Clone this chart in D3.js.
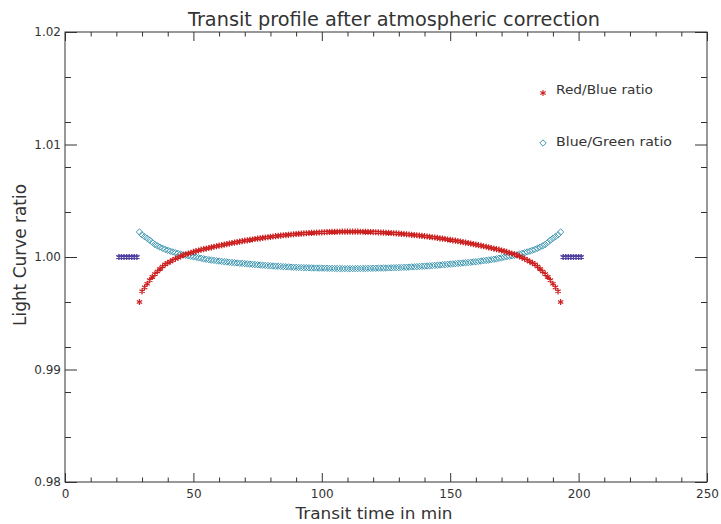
<!DOCTYPE html>
<html>
<head>
<meta charset="utf-8">
<script src="https://cdn.jsdelivr.net/npm/d3@7"></script>
<style>
  body { margin: 0; background: #fff; }
  svg text { font-family: "DejaVu Sans", sans-serif; fill: #333; }
</style>
</head>
<body>
<div id="chart"></div>
<script>
// sample times (min) inside the transit
var times = [
  29,30,31,32,33,34,35,36,37,38,39,40,41,42,43,44,45,46,47,48,49,50,
  51,52,53,54,55,56,57,58,59,60,61,62,63,64,65,66,67,68,69,70,
  71,72,73,74,75,76,77,78,79,80,81,82,83,84,85,86,87,88,89,90,
  91,92,93,94,95,96,97,98,99,100,101,102,103,104,105,106,107,108,109,110,
  111,112,113,114,115,116,117,118,119,120,121,122,123,124,125,126,127,128,129,130,
  131,132,133,134,135,136,137,138,139,140,141,142,143,144,145,146,147,148,149,150,
  151,152,153,154,155,156,157,158,159,160,161,162,163,164,165,166,167,168,169,170,
  171,172,173,174,175,176,177,178,179,180,181,182,183,184,185,186,187,188,189,190,
  191,192,193
];

var redBlue = [
  0.99600,0.99695,0.99730,0.99762,0.99794,0.99823,0.99848,0.99871,0.99894,0.99915,
  0.99934,0.99948,0.99960,0.99972,0.99984,0.99995,1.00006,1.00017,1.00024,1.00031,
  1.00038,1.00045,1.00052,1.00058,1.00065,1.00070,1.00075,1.00080,1.00086,1.00091,
  1.00096,1.00101,1.00105,1.00110,1.00115,1.00119,1.00124,1.00128,1.00132,1.00137,
  1.00141,1.00145,1.00148,1.00152,1.00156,1.00160,1.00163,1.00166,1.00170,1.00173,
  1.00176,1.00179,1.00182,1.00185,1.00188,1.00190,1.00193,1.00195,1.00197,1.00200,
  1.00202,1.00204,1.00206,1.00208,1.00210,1.00211,1.00213,1.00214,1.00216,1.00217,
  1.00218,1.00219,1.00220,1.00221,1.00222,1.00223,1.00223,1.00224,1.00224,1.00225,
  1.00225,1.00225,1.00225,
  1.00225,1.00225,1.00225,1.00224,1.00224,1.00223,1.00223,1.00222,1.00221,1.00220,
  1.00219,1.00218,1.00217,1.00216,1.00214,1.00213,1.00211,1.00210,1.00208,1.00206,
  1.00204,1.00202,1.00200,1.00197,1.00195,1.00193,1.00190,1.00188,1.00185,1.00182,
  1.00179,1.00176,1.00173,1.00170,1.00166,1.00163,1.00160,1.00156,1.00152,1.00148,
  1.00145,1.00141,1.00137,1.00132,1.00128,1.00124,1.00119,1.00115,1.00110,1.00105,
  1.00101,1.00096,1.00091,1.00086,1.00080,1.00075,1.00070,1.00065,1.00058,1.00052,
  1.00045,1.00038,1.00031,1.00024,1.00017,1.00006,0.99995,0.99984,0.99972,0.99960,
  0.99948,0.99934,0.99915,0.99894,0.99871,0.99848,0.99823,0.99794,0.99762,0.99730,
  0.99695,0.99600
];

var blueGreen = [
  1.00222,1.00197,1.00181,1.00166,1.00150,1.00130,1.00112,1.00099,1.00088,1.00078,
  1.00068,1.00060,1.00052,1.00045,1.00038,1.00032,1.00026,1.00020,1.00015,1.00011,
  1.00006,1.00002,0.99998,0.99993,0.99989,0.99984,0.99980,0.99976,0.99973,0.99970,
  0.99967,0.99964,0.99961,0.99958,0.99956,0.99953,0.99951,0.99949,0.99947,0.99945,
  0.99943,0.99941,0.99939,0.99937,0.99935,0.99933,0.99931,0.99929,0.99927,0.99925,
  0.99924,0.99922,0.99920,0.99919,0.99917,0.99916,0.99914,0.99913,0.99912,0.99910,
  0.99909,0.99908,0.99907,0.99906,0.99905,0.99905,0.99904,0.99903,0.99902,0.99902,
  0.99901,0.99901,0.99900,0.99900,0.99899,0.99899,0.99898,0.99898,0.99898,0.99897,
  0.99897,0.99897,0.99897,
  0.99897,0.99897,0.99897,0.99898,0.99898,0.99898,0.99899,0.99899,0.99900,0.99900,
  0.99901,0.99901,0.99902,0.99902,0.99903,0.99904,0.99905,0.99905,0.99906,0.99907,
  0.99908,0.99909,0.99910,0.99912,0.99913,0.99914,0.99916,0.99917,0.99919,0.99920,
  0.99922,0.99924,0.99925,0.99927,0.99929,0.99931,0.99933,0.99935,0.99937,0.99939,
  0.99941,0.99943,0.99945,0.99947,0.99949,0.99951,0.99953,0.99956,0.99958,0.99961,
  0.99964,0.99967,0.99970,0.99973,0.99976,0.99980,0.99984,0.99989,0.99993,0.99998,
  1.00002,1.00006,1.00011,1.00015,1.00020,1.00026,1.00032,1.00038,1.00045,1.00052,
  1.00060,1.00068,1.00078,1.00088,1.00099,1.00112,1.00130,1.00150,1.00166,1.00181,
  1.00197,1.00222
];

// out of transit points (both ratios at 1)
var ootTimes = [21,22,23,24,25,26,27,28, 194,195,196,197,198,199,200,201];
var ootValues = [1,1,1,1,1,1,1,1, 1,1,1,1,1,1,1,1];

var xMajor = [0, 50, 100, 150, 200, 250];
var yMajor = [0.98, 0.99, 1.00, 1.01, 1.02];

var legendLabels = ["Red/Blue ratio", "Blue/Green ratio"];

var width = 721, height = 524;
var margin = {left: 65, top: 32, right: 14, bottom: 42};
var plotW = width - margin.left - margin.right;
var plotH = height - margin.top - margin.bottom;

var svg = d3.select("#chart").append("svg")
  .attr("width", width)
  .attr("height", height);

var g = svg.append("g")
  .attr("transform", "translate(" + margin.left + "," + margin.top + ")");

var x = d3.scaleLinear().domain([0, 250]).range([0, plotW]);
var y = d3.scaleLinear().domain([0.98, 1.02]).range([plotH, 0]);

var xMinor = d3.range(0, 251, 10).filter(function(v) { return v % 50 != 0; });
var yMinor = d3.range(0, 21, 2).map(function(v) { return 0.98 + v * 0.002; })
  .filter(function(v, i) { return i % 5 != 0; });

function styleAxis(sel) {
  sel.select(".domain").remove();
  sel.selectAll("line").attr("stroke", "#333");
  sel.selectAll("text").style("font-size", "12px").attr("fill", "#555");
}

// bottom axis
g.append("g").attr("transform", "translate(0," + plotH + ")")
  .call(d3.axisBottom(x).tickValues(xMajor).tickSize(-9).tickPadding(7).tickFormat(d3.format("d")))
  .call(styleAxis);
g.append("g").attr("transform", "translate(0," + plotH + ")")
  .call(d3.axisBottom(x).tickValues(xMinor).tickSize(-4.5).tickFormat(""))
  .call(styleAxis);
// top axis
g.append("g")
  .call(d3.axisTop(x).tickValues(xMajor).tickSize(-9).tickFormat(""))
  .call(styleAxis);
g.append("g")
  .call(d3.axisTop(x).tickValues(xMinor).tickSize(-4.5).tickFormat(""))
  .call(styleAxis);
// left axis
g.append("g")
  .call(d3.axisLeft(y).tickValues(yMajor).tickSize(-12).tickPadding(4).tickFormat(d3.format(".2f")))
  .call(styleAxis);
g.append("g")
  .call(d3.axisLeft(y).tickValues(yMinor).tickSize(-6).tickFormat(""))
  .call(styleAxis);
// right axis
g.append("g").attr("transform", "translate(" + plotW + ",0)")
  .call(d3.axisRight(y).tickValues(yMajor).tickSize(-12).tickFormat(""))
  .call(styleAxis);
g.append("g").attr("transform", "translate(" + plotW + ",0)")
  .call(d3.axisRight(y).tickValues(yMinor).tickSize(-6).tickFormat(""))
  .call(styleAxis);

// frame
g.append("rect")
  .attr("width", plotW).attr("height", plotH)
  .attr("fill", "none").attr("stroke", "#333").attr("stroke-width", 1);

var star = d3.symbol().type(d3.symbolAsterisk).size(26);
var diamond = d3.symbol().type(d3.symbolDiamond2).size(26);

// Blue/Green ratio
g.selectAll("path.bg")
  .data(times)
  .enter().append("path")
  .attr("class", "bg")
  .attr("d", diamond)
  .attr("transform", function(d, i) { return "translate(" + x(d) + "," + y(blueGreen[i]) + ")"; })
  .attr("fill", "none")
  .attr("stroke", "#3f98b2")
  .attr("stroke-width", 1);

// Red/Blue ratio
g.selectAll("path.rb")
  .data(times)
  .enter().append("path")
  .attr("class", "rb")
  .attr("d", star)
  .attr("transform", function(d, i) { return "translate(" + x(d) + "," + y(redBlue[i]) + ")"; })
  .attr("fill", "none")
  .attr("stroke", "#cc1f1f")
  .attr("stroke-width", 1.2);

// out of transit
g.selectAll("path.oot")
  .data(ootTimes)
  .enter().append("path")
  .attr("class", "oot")
  .attr("d", star)
  .attr("transform", function(d, i) { return "translate(" + x(d) + "," + y(ootValues[i]) + ")"; })
  .attr("fill", "none")
  .attr("stroke", "#4e3f9e")
  .attr("stroke-width", 1.4);

// legend
var legend = svg.append("g");
legend.append("path")
  .attr("d", star)
  .attr("transform", "translate(543,93)")
  .attr("fill", "none").attr("stroke", "#cc1f1f").attr("stroke-width", 1.1);
legend.append("text")
  .attr("x", 556).attr("y", 94)
  .attr("textLength", 97).attr("lengthAdjust", "spacingAndGlyphs")
  .style("font-size", "13px")
  .text(legendLabels[0]);
legend.append("path")
  .attr("d", diamond)
  .attr("transform", "translate(543,143)")
  .attr("fill", "none").attr("stroke", "#3f98b2").attr("stroke-width", 1);
legend.append("text")
  .attr("x", 556).attr("y", 146)
  .attr("textLength", 116).attr("lengthAdjust", "spacingAndGlyphs")
  .style("font-size", "13px")
  .text(legendLabels[1]);

// titles
svg.append("text")
  .attr("x", 394).attr("y", 26)
  .attr("text-anchor", "middle")
  .attr("textLength", 412).attr("lengthAdjust", "spacingAndGlyphs")
  .style("font-size", "19px")
  .text("Transit profile after atmospheric correction");

svg.append("text")
  .attr("x", 374).attr("y", 519)
  .attr("text-anchor", "middle")
  .attr("textLength", 157).attr("lengthAdjust", "spacingAndGlyphs")
  .style("font-size", "16px")
  .text("Transit time in min");

svg.append("text")
  .attr("transform", "translate(26,255) rotate(-90)")
  .attr("text-anchor", "middle")
  .attr("textLength", 142).attr("lengthAdjust", "spacingAndGlyphs")
  .style("font-size", "17px")
  .text("Light Curve ratio");
</script>
</body>
</html>
